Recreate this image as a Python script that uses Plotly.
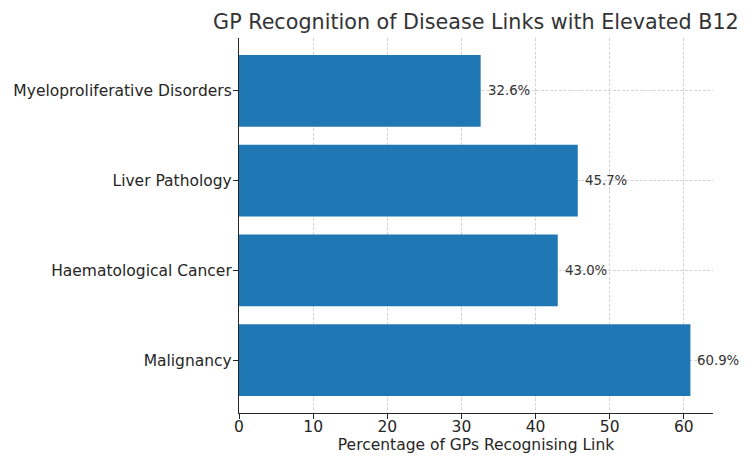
import plotly.graph_objects as go

categories = ["Malignancy", "Haematological Cancer", "Liver Pathology", "Myeloproliferative Disorders"]
values = [60.9, 43.0, 45.7, 32.6]
labels = [f"{v:.1f}%" for v in values]
x_ticks = [0, 10, 20, 30, 40, 50, 60]

FONT = "DejaVu Sans"

fig = go.Figure()
fig.add_trace(go.Bar(
    x=values, y=categories, orientation="h",
    marker=dict(color="#1f77b4", line=dict(width=0)),
    width=0.8, hoverinfo="skip",
))

for v, c, t in zip(values, categories, labels):
    fig.add_annotation(x=v, y=c, text=t, showarrow=False, xanchor="left",
                       yanchor="middle", xshift=5,
                       font=dict(family=FONT, size=13.3, color="#333333"))

fig.update_layout(
    width=750, height=469,
    margin=dict(l=239, r=37, t=38, b=56),
    paper_bgcolor="white", plot_bgcolor="white",
    showlegend=False,
    title=dict(text="GP Recognition of Disease Links with Elevated B12",
               x=0.6346, xanchor="center", y=1 - 22 / 469, yanchor="middle",
               font=dict(family=FONT, size=20.7, color="#333333")),
    font=dict(family=FONT, color="#262626"),
)

fig.update_xaxes(
    range=[0, 63.945], tickvals=x_ticks, ticks="outside", ticklen=5, tickcolor="#262626",
    showline=True, linecolor="#262626", linewidth=1.2, mirror=False,
    showgrid=True, gridcolor="#d4d4d4", griddash="3px,1.5px", gridwidth=0.8,
    zeroline=False, layer="above traces", ticklabelstandoff=-6,
    tickfont=dict(family=FONT, size=15.5, color="#262626"),
    title=dict(text="Percentage of GPs Recognising Link",
               font=dict(family=FONT, size=15.5, color="#262626"), standoff=3),
)
fig.update_yaxes(
    categoryorder="array", categoryarray=categories,
    range=[-0.59, 3.59], ticks="outside", ticklen=5, tickcolor="#262626",
    showline=True, linecolor="#262626", linewidth=1.2,
    showgrid=True, gridcolor="#d4d4d4", griddash="3px,1.5px", gridwidth=0.8,
    zeroline=False, layer="above traces", ticklabelstandoff=-2,
    tickfont=dict(family=FONT, size=15.5, color="#262626"),
)

fig.write_html("out.html")
